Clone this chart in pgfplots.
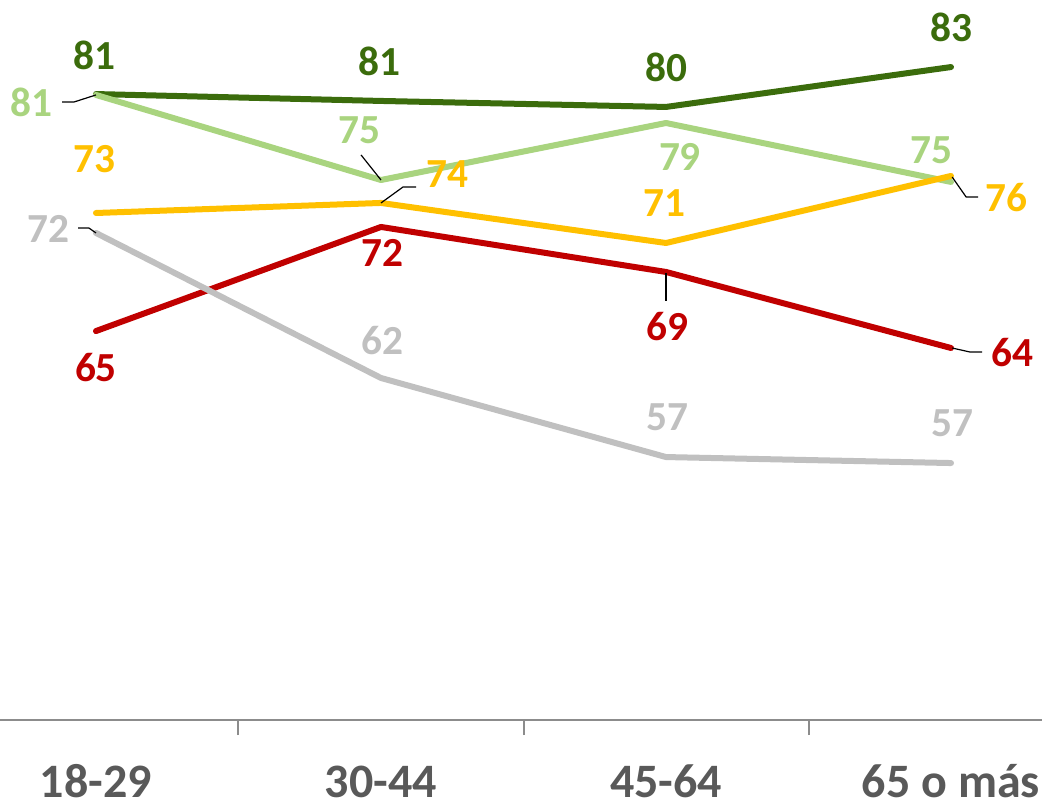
\documentclass[border=0pt]{standalone}
\usepackage{pgfplots}
\pgfplotsset{compat=1.18}
\usepackage{fontspec}
\setmainfont{Carlito}

\definecolor{dg}{HTML}{3B6C0C}
\definecolor{lg}{HTML}{A9D47F}
\definecolor{yl}{HTML}{FFC000}
\definecolor{rd}{HTML}{C00000}
\definecolor{gr}{HTML}{C0C0C0}
\definecolor{axgray}{HTML}{8C8C8C}
\definecolor{catgray}{HTML}{595959}

\tikzset{
  lab/.style={font=\bfseries\fontsize{31}{31}\selectfont, inner sep=0pt},
  leader/.style={draw=black, line width=0.9pt},
  serie/.style={line width=4.5pt, line cap=round, line join=round},
}

\begin{document}
\begin{tikzpicture}
\begin{axis}[
  scale only axis,
  width=781.5pt, height=540pt,
  xmin=-0.3368, xmax=3.3193,
  ymin=39.4, ymax=87.4,
  axis y line=none,
  axis x line=bottom,
  x axis line style={-, draw=axgray, line width=1.5pt},
  xtick={0,1,2,3},
  xticklabels={18-29,30-44,45-64,65 o más},
  major tick length=0pt,
  xticklabel style={font=\bfseries\fontsize{36}{36}\selectfont, text=catgray, anchor=base, yshift=-57.75pt},
  extra x ticks={0.5,1.5,2.5},
  extra x tick labels={,,},
  extra x tick style={major tick length=11.25pt, tick align=outside,
    tick style={draw=axgray, line width=1.5pt}},
  clip=false,
]
\coordinate (bl) at (rel axis cs:0,0);
\coordinate (tr) at (rel axis cs:1,1);

% series
\addplot[serie, dg] coordinates {(0,81.13) (1,80.67) (2,80.27) (3,82.93)};
\addplot[serie, lg] coordinates {(0,81.07) (1,75.4) (2,79.2) (3,75.27)};
\addplot[serie, yl] coordinates {(0,73.2) (1,73.87) (2,71.2) (3,75.67)};
\addplot[serie, rd] coordinates {(0,65.33) (1,72.27) (2,69.27) (3,64.2)};
\addplot[serie, gr] coordinates {(0,71.87) (1,62.2) (2,56.93) (3,56.53)};

% leader lines
\draw[leader] (axis cs:-0.119,80.6) -- (axis cs:-0.077,80.6) -- (axis cs:0,81.07);
\draw[leader] (axis cs:-0.063,72.2) -- (axis cs:-0.025,72.2) -- (axis cs:0,71.87);
\draw[leader] (axis cs:0.93,77.07) -- (axis cs:1,75.4);
\draw[leader] (axis cs:1,73.87) -- (axis cs:1.077,74.93) -- (axis cs:1.123,74.93);
\draw[leader] (axis cs:2,69.2) -- (axis cs:2,67.33);
\draw[leader] (axis cs:3.004,75.6) -- (axis cs:3.053,74.27) -- (axis cs:3.095,74.27);
\draw[leader] (axis cs:3.004,64.2) -- (axis cs:3.067,63.93) -- (axis cs:3.109,63.93);

% data labels
\node[lab, text=dg] at (axis cs:-0.007,83.73) {81};
\node[lab, text=dg] at (axis cs:0.996,83.33) {81};
\node[lab, text=dg] at (axis cs:2.0,82.93) {80};
\node[lab, text=dg] at (axis cs:3.0,85.6) {83};

\node[lab, text=lg] at (axis cs:-0.228,80.6) {81};
\node[lab, text=lg] at (axis cs:0.926,78.73) {75};
\node[lab, text=lg] at (axis cs:2.049,76.93) {79};
\node[lab, text=lg] at (axis cs:2.93,77.4) {75};

\node[lab, text=yl] at (axis cs:-0.004,76.8) {73};
\node[lab, text=yl] at (axis cs:1.232,75.8) {74};
\node[lab, text=yl] at (axis cs:1.996,73.87) {71};
\node[lab, text=yl] at (axis cs:3.196,74.2) {76};

\node[lab, text=rd] at (axis cs:0,62.87) {65};
\node[lab, text=rd] at (axis cs:1.004,70.53) {72};
\node[lab, text=rd] at (axis cs:2.004,65.6) {69};
\node[lab, text=rd] at (axis cs:3.214,63.87) {64};

\node[lab, text=gr] at (axis cs:-0.168,72.13) {72};
\node[lab, text=gr] at (axis cs:1.004,64.73) {62};
\node[lab, text=gr] at (axis cs:2.004,59.6) {57};
\node[lab, text=gr] at (axis cs:3.004,59.2) {57};
\end{axis}
\pgfresetboundingbox
\path (bl) ++(0,-60pt) rectangle (tr);
\end{tikzpicture}
\end{document}
